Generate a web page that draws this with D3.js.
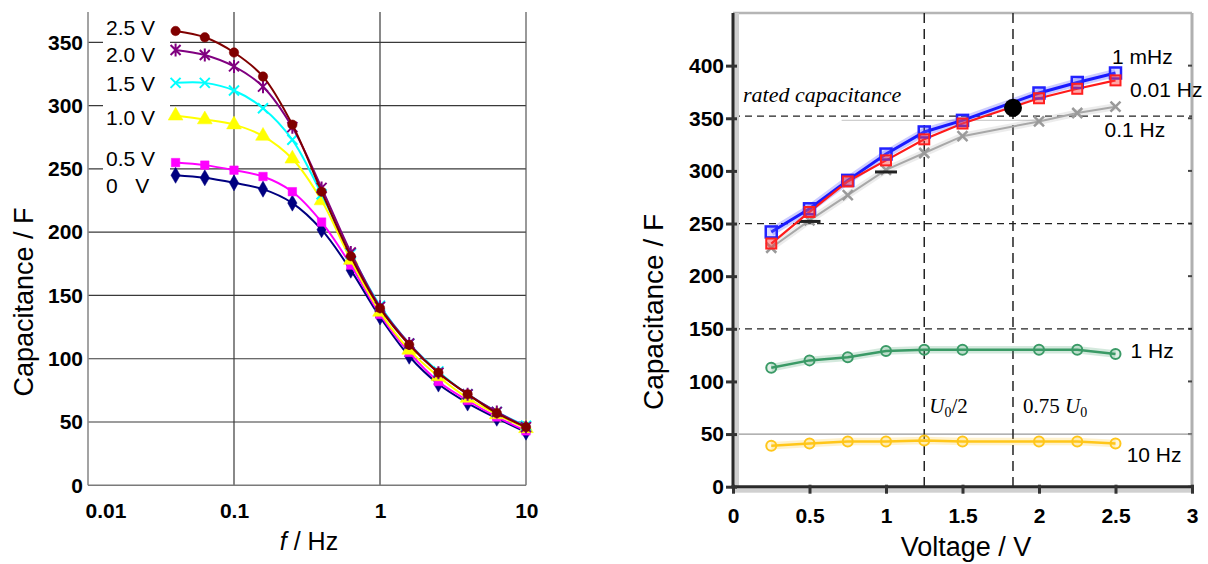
<!DOCTYPE html>
<html><head><meta charset="utf-8">
<script src="https://cdn.jsdelivr.net/npm/d3@7"></script>
<style>
html,body{margin:0;padding:0;background:#fff;}
svg{display:block;}
text{font-family:"Liberation Sans",Arial,sans-serif;fill:#000;}
.serif{font-family:"Liberation Serif","Times New Roman",serif;font-style:italic;}
</style></head>
<body>
<svg id="c" width="1208" height="564"></svg>
<script>
// ---------- LEFT CHART DATA ----------
const freqs = [0.0398, 0.0631, 0.1, 0.158, 0.251, 0.398, 0.631, 1, 1.585, 2.512, 3.981, 6.31, 10];
const cap0V  = [245, 243, 239, 234, 223, 202, 170, 133, 102, 80, 65, 53, 42];
const cap05V = [255, 253, 249, 244, 232, 208, 174, 135, 105, 82, 67, 54, 43];
const cap10V = [292, 289, 285, 276, 258, 225, 178, 137, 107, 86, 69, 56, 45];
const cap15V = [318, 318, 312, 298, 273, 230, 183, 142, 112, 90, 72, 58, 47];
const cap20V = [344, 340, 331, 315, 283, 235, 184, 141, 112, 89, 72, 58, 46];
const cap25V = [359, 354, 342, 323, 285, 232, 181, 140, 111, 89, 72, 57, 46];
const voltLabels = ["0   V", "0.5 V", "1.0 V", "1.5 V", "2.0 V", "2.5 V"];
const leftYTicks = [0, 50, 100, 150, 200, 250, 300, 350];
const leftXTicks = [0.01, 0.1, 1, 10];

// ---------- RIGHT CHART DATA ----------
const volts = [0.25, 0.5, 0.75, 1.0, 1.25, 1.5, 2.0, 2.25, 2.5];
const c1mHz  = [242, 264, 291, 316, 337, 348, 374, 384, 393];
const c001Hz = [231, 261, 290, 310, 330, 345, 369, 378, 386];
const c01Hz  = [227, 253, 277, 301, 317, 333, 347, 355, 361];
const c1Hz   = [113, 120, 123, 129, 130, 130, 130, 130, 126];
const c10Hz  = [39, 41, 43, 43, 44, 43, 43, 43, 41];
const blackBarsV = [0.5, 1.0];
const blackBarsC = [252, 299];
const ratedPointV = 1.83, ratedPointC = 360;
const ratedCap = 352;
const halfU0 = 1.25, threeQuarterU0 = 1.83;
const rightYTicks = [0, 50, 100, 150, 200, 250, 300, 350, 400];
const rightXTicks = [0, 0.5, 1, 1.5, 2, 2.5, 3];
const dashedY = [150, 250];
const solidY = [50];
const serLabelText = ["1 mHz", "0.01 Hz", "0.1 Hz", "1 Hz", "10 Hz"];
const serLabelV = [2.477, 2.595, 2.428, 2.598, 2.573];
const serLabelC = [402, 370.5, 332.5, 122.3, 23.7];

const svg = d3.select("#c");

// =============== LEFT CHART ===============
const xL = d3.scaleLog().domain([0.01, 10]).range([88, 526]);
const yL = d3.scaleLinear().domain([0, 374]).range([485.3, 12]);
const gL = svg.append("g");

gL.selectAll(".hg").data(leftYTicks.filter(d => d > 0)).join("line")
  .attr("x1", xL(0.01)).attr("x2", xL(10))
  .attr("y1", d => yL(d)).attr("y2", d => yL(d))
  .attr("stroke", "#3a3a3a").attr("stroke-width", 1.2);
gL.selectAll(".vg").data([0.1, 1, 10]).join("line")
  .attr("x1", d => xL(d)).attr("x2", d => xL(d))
  .attr("y1", yL(374)).attr("y2", yL(0))
  .attr("stroke", d => d === 10 ? "#555" : "#3a3a3a").attr("stroke-width", 1.2);
gL.append("line").attr("x1", xL(0.01)).attr("x2", xL(0.01)).attr("y1", yL(374)).attr("y2", yL(0))
  .attr("stroke", "#8c8c8c").attr("stroke-width", 1.6);
gL.append("line").attr("x1", xL(0.01)).attr("x2", xL(10)).attr("y1", yL(0)).attr("y2", yL(0))
  .attr("stroke", "#7a7a7a").attr("stroke-width", 1.6);

gL.append("rect").attr("x", 103).attr("y", 14).attr("width", 67).attr("height", 184).attr("fill", "#fff");

const axL = d3.axisLeft(yL).tickValues(leftYTicks).tickSize(0).tickPadding(4);
const gy = gL.append("g").attr("transform", `translate(${xL(0.01) - 1},0)`).call(axL);
gy.select(".domain").remove();
gy.selectAll("text").attr("font-size", 21).attr("font-weight", "bold")
  .attr("font-family", '"Liberation Sans",Arial,sans-serif').attr("fill", "#000");

const axB = d3.axisBottom(xL).tickValues(leftXTicks).tickSize(0).tickPadding(18)
  .tickFormat(d => String(d));
const gx = gL.append("g").attr("transform", `translate(0,${yL(0)})`).call(axB);
gx.select(".domain").remove();
gx.selectAll("text").attr("font-size", 21).attr("font-weight", "bold")
  .attr("font-family", '"Liberation Sans",Arial,sans-serif').attr("fill", "#000");
gx.selectAll("text").filter(d => d === 0.01).attr("text-anchor", "start").attr("dx", -3);
gx.selectAll("text").filter(d => d === 10).attr("text-anchor", "end").attr("dx", 12);

gL.append("text").attr("x", 309).attr("y", 550).attr("text-anchor", "middle").attr("font-size", 25)
  .call(t => { t.append("tspan").attr("font-style", "italic").text("f"); t.append("tspan").text(" / Hz"); });
gL.append("text").attr("transform", "translate(33,302) rotate(-90)").attr("text-anchor", "middle")
  .attr("font-size", 27).text("Capacitance / F");

const leftSeries = [
  {vals: cap0V,  color: "#000080", sym: "diamond"},
  {vals: cap05V, color: "#ff00ff", sym: "square"},
  {vals: cap10V, color: "#ffff00", sym: "triangle"},
  {vals: cap15V, color: "#00ffff", sym: "x"},
  {vals: cap20V, color: "#800080", sym: "star"},
  {vals: cap25V, color: "#800000", sym: "circle"}
];
const lineL = d3.line().x(d => xL(d[0])).y(d => yL(d[1])).curve(d3.curveCatmullRom.alpha(0.5));
function symPath(s) {
  if (s === "diamond") return d3.symbol(d3.symbolDiamond, 75)();
  if (s === "square") return d3.symbol(d3.symbolSquare, 72)();
  if (s === "triangle") return d3.symbol(d3.symbolTriangle, 95)();
  if (s === "circle") return d3.symbol(d3.symbolCircle, 70)();
  if (s === "x") return "M-5,-5L5,5M-5,5L5,-5";
  if (s === "star") return "M-5,-5L5,5M-5,5L5,-5M0,-6.5L0,6.5";
}
leftSeries.forEach(s => {
  const pts = freqs.map((f, i) => [f, s.vals[i]]);
  gL.append("path").attr("d", lineL(pts)).attr("fill", "none").attr("stroke", s.color).attr("stroke-width", 2);
  const open = (s.sym === "x" || s.sym === "star");
  gL.selectAll(null).data(pts).join("path")
    .attr("transform", d => `translate(${xL(d[0])},${yL(d[1])})`)
    .attr("d", symPath(s.sym))
    .attr("fill", open ? "none" : s.color)
    .attr("stroke", s.color).attr("stroke-width", open ? 2 : 0.5);
});

const labelY = [193, 166, 125, 91, 62, 35];
gL.selectAll(".vl").data(voltLabels).join("text")
  .attr("x", 106).attr("y", (d, i) => labelY[i])
  .attr("font-size", 21).style("white-space", "pre").attr("xml:space", "preserve")
  .text(d => d);

// =============== RIGHT CHART ===============
const xR = d3.scaleLinear().domain([0, 3]).range([733, 1192]);
const yR = d3.scaleLinear().domain([0, 450]).range([486.7, 13]);
const gR = svg.append("g");

gR.append("line").attr("x1", xR(0)).attr("x2", xR(3)).attr("y1", yR(450)).attr("y2", yR(450))
  .attr("stroke", "#b5b5b5").attr("stroke-width", 2.5);
gR.append("line").attr("x1", xR(3)).attr("x2", xR(3)).attr("y1", yR(450)).attr("y2", yR(0))
  .attr("stroke", "#b0b0b0").attr("stroke-width", 3);
gR.selectAll(".rt").data(rightYTicks).join("line")
  .attr("x1", xR(3) - 4).attr("x2", xR(3)).attr("y1", d => yR(d)).attr("y2", d => yR(d))
  .attr("stroke", "#444").attr("stroke-width", 2);

// faint gray line near rated capacitance
gR.append("line").attr("x1", xR(0.71)).attr("x2", xR(1.99)).attr("y1", yR(348)).attr("y2", yR(348))
  .attr("stroke", "#cfcfcf").attr("stroke-width", 1.2);

gR.selectAll(".dh").data(dashedY.concat([ratedCap])).join("line")
  .attr("x1", xR(0)).attr("x2", xR(3)).attr("y1", d => yR(d)).attr("y2", d => yR(d))
  .attr("stroke", "#222").attr("stroke-width", 1.3).attr("stroke-dasharray", "7,5");
gR.selectAll(".sh").data(solidY).join("line")
  .attr("x1", xR(0)).attr("x2", xR(3)).attr("y1", d => yR(d)).attr("y2", d => yR(d))
  .attr("stroke", "#999").attr("stroke-width", 1.2);
gR.selectAll(".dv").data([halfU0, threeQuarterU0]).join("line")
  .attr("x1", d => xR(d)).attr("x2", d => xR(d)).attr("y1", yR(450)).attr("y2", yR(0))
  .attr("stroke", "#222").attr("stroke-width", 1.5).attr("stroke-dasharray", "10,6");

gR.append("rect").attr("x", xR(0) + 1).attr("y", yR(450)).attr("width", 5).attr("height", yR(0) - yR(450))
  .attr("fill", "#d0d0d0");
gR.append("rect").attr("x", xR(0)).attr("y", yR(0) + 1).attr("width", xR(3) - xR(0)).attr("height", 5)
  .attr("fill", "#d0d0d0");
gR.append("line").attr("x1", xR(0)).attr("x2", xR(0)).attr("y1", yR(450)).attr("y2", yR(0) + 1.5)
  .attr("stroke", "#2a2a2a").attr("stroke-width", 3);
gR.append("line").attr("x1", xR(0) - 1.5).attr("x2", xR(3) + 1.5).attr("y1", yR(0)).attr("y2", yR(0))
  .attr("stroke", "#2a2a2a").attr("stroke-width", 3);

const axRY = d3.axisLeft(yR).tickValues(rightYTicks).tickSize(0).tickPadding(9);
const gry = gR.append("g").attr("transform", `translate(${xR(0)},0)`).call(axRY);
gry.select(".domain").remove();
gry.selectAll("text").attr("font-size", 21).attr("font-weight", "bold")
  .attr("font-family", '"Liberation Sans",Arial,sans-serif').attr("fill", "#000");
gry.selectAll(".tick").append("line").attr("x1", -7).attr("x2", 4).attr("stroke", "#333").attr("stroke-width", 3);

const grx = gR.append("g").attr("transform", `translate(0,${yR(0)})`)
  .call(d3.axisBottom(xR).tickValues(rightXTicks).tickSize(0).tickPadding(21).tickFormat(d3.format("")));
grx.select(".domain").remove();
grx.selectAll("text").attr("font-size", 21).attr("font-weight", "bold")
  .attr("font-family", '"Liberation Sans",Arial,sans-serif').attr("fill", "#000");
grx.selectAll(".tick").append("line").attr("y1", -2).attr("y2", 7).attr("stroke", "#333").attr("stroke-width", 3);

gR.append("text").attr("x", 966).attr("y", 556).attr("text-anchor", "middle").attr("font-size", 27).text("Voltage / V");
gR.append("text").attr("transform", "translate(663,312) rotate(-90)").attr("text-anchor", "middle")
  .attr("font-size", 28).text("Capacitance / F");

const lineR = d3.line().x(d => xR(d[0])).y(d => yR(d[1]));
function drawLine(vals, color, w, glow) {
  const pts = volts.map((v, i) => [v, vals[i]]);
  if (glow) gR.append("path").attr("d", lineR(pts)).attr("fill", "none").attr("stroke", color)
    .attr("stroke-width", w + 5).attr("stroke-opacity", 0.22);
  gR.append("path").attr("d", lineR(pts)).attr("fill", "none").attr("stroke", color).attr("stroke-width", w);
  return pts;
}
const pGray = drawLine(c01Hz, "#a8a8a8", 2, true);
gR.selectAll(null).data(pGray).join("path")
  .attr("transform", d => `translate(${xR(d[0])},${yR(d[1])})`)
  .attr("d", "M-5,-5L5,5M-5,5L5,-5").attr("stroke", "#9a9a9a").attr("stroke-width", 2.5).attr("fill", "none");
gR.selectAll(null).data(blackBarsV.map((v, i) => [v, blackBarsC[i]])).join("rect")
  .attr("x", d => xR(d[0]) - 11).attr("y", d => yR(d[1]) - 1.5).attr("width", 22).attr("height", 3).attr("fill", "#222");
const pBlue = drawLine(c1mHz, "#1a1aff", 3, true);
const pRed = drawLine(c001Hz, "#ff1a1a", 2.2, false);
gR.selectAll(null).data(pBlue).join("rect")
  .attr("x", d => xR(d[0]) - 5.5).attr("y", d => yR(d[1]) - 5.5).attr("width", 11).attr("height", 11)
  .attr("fill", "rgba(120,120,255,0.25)").attr("stroke", "#2222ff").attr("stroke-width", 2.5);
gR.selectAll(null).data(pRed).join("rect")
  .attr("x", d => xR(d[0]) - 5).attr("y", d => yR(d[1]) - 5).attr("width", 10).attr("height", 10)
  .attr("fill", "rgba(255,60,60,0.45)").attr("stroke", "#ff2020").attr("stroke-width", 2);
const pGreen = drawLine(c1Hz, "#3a9a66", 2.5, true);
gR.selectAll(null).data(pGreen).join("circle")
  .attr("cx", d => xR(d[0])).attr("cy", d => yR(d[1])).attr("r", 5)
  .attr("fill", "rgba(58,154,102,0.15)").attr("stroke", "#3a9a66").attr("stroke-width", 2);
const pGold = drawLine(c10Hz, "#ffc61a", 2.5, true);
gR.selectAll(null).data(pGold).join("circle")
  .attr("cx", d => xR(d[0])).attr("cy", d => yR(d[1])).attr("r", 5)
  .attr("fill", "rgba(255,198,26,0.15)").attr("stroke", "#ffc61a").attr("stroke-width", 2);

gR.append("circle").attr("cx", xR(ratedPointV)).attr("cy", yR(ratedPointC)).attr("r", 9).attr("fill", "#000");

gR.selectAll(".sl").data(serLabelText).join("text")
  .attr("x", (d, i) => xR(serLabelV[i])).attr("y", (d, i) => yR(serLabelC[i])).attr("font-size", 21).text(d => d);

gR.append("text").attr("class", "serif").attr("x", 743).attr("y", 102).attr("font-size", 22)
  .text("rated capacitance");
gR.append("text").attr("class", "serif").attr("x", xR(halfU0) + 5).attr("y", 413).attr("font-size", 21)
  .call(t => {
    t.append("tspan").text("U");
    t.append("tspan").attr("font-style", "normal").attr("font-size", 14).attr("dy", 4).text("0");
    t.append("tspan").attr("font-style", "normal").attr("dy", -4).text("/2");
  });
gR.append("text").attr("class", "serif").attr("x", xR(threeQuarterU0) + 10).attr("y", 413).attr("font-size", 21)
  .call(t => {
    t.append("tspan").attr("font-style", "normal").text("0.75 ");
    t.append("tspan").text("U");
    t.append("tspan").attr("font-style", "normal").attr("font-size", 14).attr("dy", 4).text("0");
  });
</script>
</body></html>
